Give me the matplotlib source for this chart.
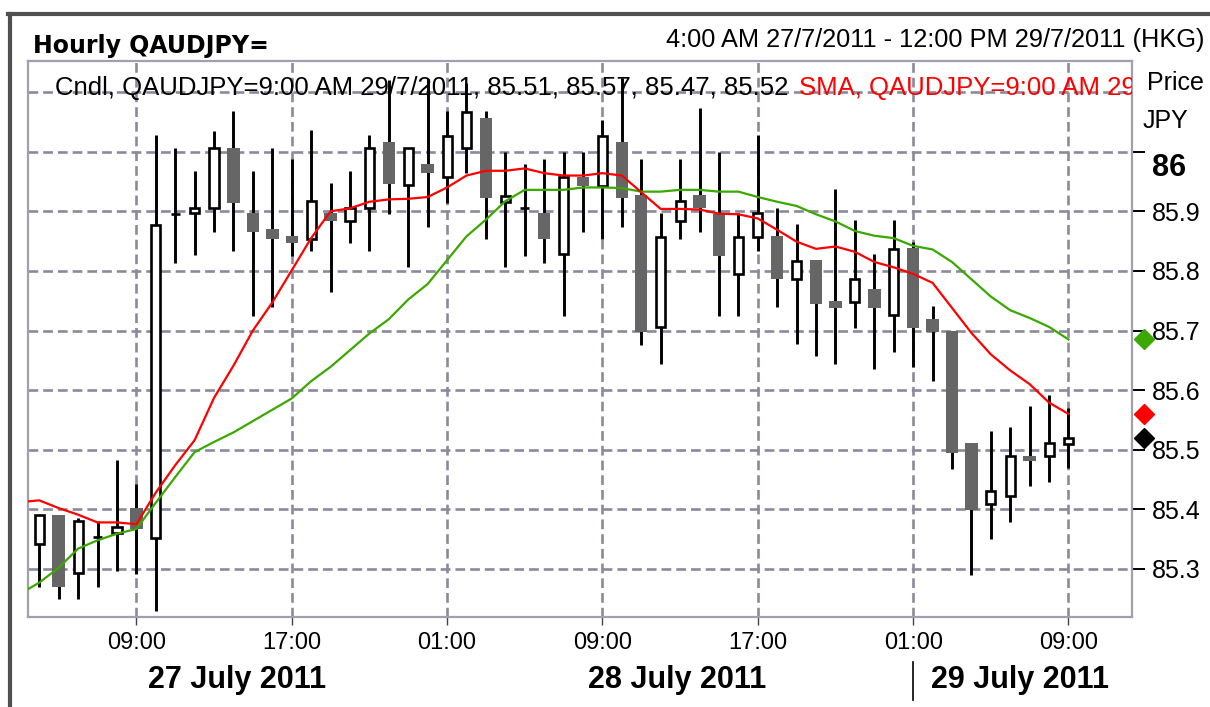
import matplotlib
matplotlib.use("Agg")
import matplotlib.pyplot as plt
import matplotlib.dates as mdates
from matplotlib.lines import Line2D
import numpy as np
import pandas as pd

plt.rcParams["font.family"] = ["Liberation Sans", "DejaVu Sans"]
plt.rcParams["lines.scale_dashes"] = False

W, H = 1210, 707

# hourly candles, 04:00 27/7/2011 .. 09:00 29/7/2011 (HKG)
times = pd.date_range("2011-07-27 04:00", periods=54, freq="h")
opens = [85.341, 85.390, 85.293, 85.353, 85.360, 85.403, 85.352, 85.896, 85.898, 85.905,
         86.007, 85.898, 85.870, 85.858, 85.854, 85.898, 85.884, 85.905, 86.017, 85.944,
         85.979, 85.957, 86.006, 86.056, 85.916, 85.905, 85.898, 85.828, 85.957, 85.943,
         86.016, 85.927, 85.706, 85.884, 85.927, 85.896, 85.795, 85.857, 85.858, 85.787,
         85.818, 85.749, 85.747, 85.769, 85.726, 85.838, 85.720, 85.700, 85.512, 85.409,
         85.422, 85.490, 85.489, 85.510]
highs = [85.390, 85.390, 85.385, 85.381, 85.483, 85.443, 86.028, 86.007, 85.968, 86.034,
         86.068, 85.968, 86.007, 85.988, 86.036, 85.947, 85.968, 86.028, 86.120, 86.007,
         86.122, 86.068, 86.115, 86.068, 86.000, 85.979, 85.988, 86.000, 86.000, 86.054,
         86.124, 85.988, 85.898, 85.988, 86.074, 85.999, 85.898, 86.028, 85.906, 85.878,
         85.818, 85.938, 85.886, 85.829, 85.886, 85.849, 85.741, 85.700, 85.512, 85.531,
         85.538, 85.573, 85.592, 85.570]
lows = [85.269, 85.250, 85.250, 85.269, 85.297, 85.291, 85.230, 85.814, 85.826, 85.866,
        85.834, 85.725, 85.739, 85.825, 85.834, 85.765, 85.846, 85.834, 85.896, 85.806,
        85.874, 85.914, 85.964, 85.854, 85.806, 85.825, 85.814, 85.725, 85.866, 85.854,
        85.874, 85.675, 85.643, 85.854, 85.866, 85.725, 85.725, 85.834, 85.739, 85.678,
        85.657, 85.644, 85.705, 85.636, 85.664, 85.638, 85.615, 85.467, 85.290, 85.351,
        85.378, 85.439, 85.446, 85.470]
closes = [85.390, 85.270, 85.381, 85.353, 85.370, 85.367, 85.877, 85.896, 85.905, 86.006,
          85.914, 85.866, 85.854, 85.846, 85.918, 85.884, 85.906, 86.007, 85.945, 86.007,
          85.964, 86.026, 86.066, 85.923, 85.926, 85.905, 85.854, 85.957, 85.943, 86.026,
          85.923, 85.698, 85.857, 85.918, 85.905, 85.825, 85.857, 85.898, 85.786, 85.816,
          85.745, 85.737, 85.787, 85.737, 85.837, 85.705, 85.697, 85.495, 85.399, 85.430,
          85.489, 85.481, 85.511, 85.520]

# moving averages (one extra point at 03:00, left of the view)
sma_times = pd.date_range("2011-07-27 03:00", periods=55, freq="h")
sma_red = [85.412, 85.415, 85.402, 85.391, 85.378, 85.378, 85.375, 85.428, 85.474, 85.516,
           85.587, 85.641, 85.700, 85.747, 85.801, 85.855, 85.900, 85.905, 85.916, 85.920,
           85.921, 85.924, 85.940, 85.960, 85.968, 85.968, 85.972, 85.964, 85.960, 85.960,
           85.964, 85.960, 85.932, 85.904, 85.904, 85.903, 85.896, 85.895, 85.888, 85.869,
           85.849, 85.837, 85.841, 85.832, 85.815, 85.806, 85.795, 85.780, 85.738, 85.696,
           85.660, 85.633, 85.610, 85.579, 85.560]
sma_green = [85.258, 85.277, 85.302, 85.334, 85.348, 85.359, 85.367, 85.411, 85.454, 85.496,
             85.513, 85.529, 85.548, 85.567, 85.586, 85.615, 85.639, 85.667, 85.695, 85.719,
             85.752, 85.778, 85.818, 85.858, 85.886, 85.917, 85.936, 85.936, 85.936, 85.940,
             85.940, 85.939, 85.933, 85.933, 85.936, 85.936, 85.933, 85.933, 85.924, 85.916,
             85.909, 85.895, 85.883, 85.867, 85.859, 85.855, 85.842, 85.836, 85.815, 85.786,
             85.757, 85.734, 85.721, 85.706, 85.685]

price_ticks = [85.3, 85.4, 85.5, 85.6, 85.7, 85.8, 85.9, 86.0]
price_labels = ["85.3", "85.4", "85.5", "85.6", "85.7", "85.8", "85.9", ""]

RED = "#ff0000"
GREEN = "#3aa800"
GRAY_BODY = "#666666"
GRID = "#8a8a9a"


def px(x, y):
    return x / W, 1 - y / H


fig = plt.figure(figsize=(W / 100, H / 100), dpi=100)
ax = fig.add_axes([28 / W, 1 - 617 / H, 1104 / W, 556 / H])

x = mdates.date2num(times)
xs = mdates.date2num(sma_times)
hour = 1.0 / 24

o = np.array(opens)
c = np.array(closes)
up = c >= o

ax.vlines(x, lows, highs, color="black", linewidth=2.1, zorder=3)
ax.bar(x[up], (c - o)[up], bottom=o[up], width=0.47 * hour, facecolor="white",
       edgecolor="black", linewidth=1.9, zorder=4)
ax.bar(x[~up], (c - o)[~up], bottom=o[~up], width=0.64 * hour, facecolor=GRAY_BODY,
       edgecolor="none", linewidth=0, zorder=4)

ax.plot(xs, sma_green, color=GREEN, linewidth=1.6, zorder=5)
ax.plot(xs, sma_red, color=RED, linewidth=1.6, zorder=5)

# last value markers right of the plot
x_mark = x[0] + 56.9 * hour
ax.plot([x_mark], [sma_green[-1]], marker="D", markersize=10, color=GREEN, clip_on=False, zorder=6)
ax.plot([x_mark], [sma_red[-1]], marker="D", markersize=10, color=RED, clip_on=False, zorder=6)
ax.plot([x_mark], [closes[-1]], marker="D", markersize=10, color="black", clip_on=False, zorder=6)

ax.set_xlim(x[0] - 0.58 * hour, x[0] + 56.27 * hour)
ax.set_ylim(85.2193, 86.1522)

ax.xaxis.set_major_locator(mdates.HourLocator(byhour=[1, 9, 17]))
ax.xaxis.set_major_formatter(mdates.DateFormatter("%H:%M"))
ax.tick_params(axis="x", direction="out", length=6, width=1, color="#444444",
               labelsize=17, pad=5)

ax.yaxis.tick_right()
ax.set_yticks(price_ticks)
ax.set_yticklabels(price_labels)
ax.tick_params(axis="y", direction="out", length=9.4, width=1.4, color="black",
               labelsize=18, pad=5)

dash = (0, (7, 3.6))
ax.grid(True, color=GRID, linestyle=dash, linewidth=1.9, zorder=1)
ax.axhline(86.1, color=GRID, linestyle=dash, linewidth=1.9, zorder=1)
ax.set_axisbelow(True)
for s in ax.spines.values():
    s.set_color("#a0a0b0")
    s.set_linewidth(1.6)

# legend line inside the plot
ax.text((55 - 28) / 1104, (617 - 88) / 556,
        "Cndl, QAUDJPY=9:00 AM 29/7/2011, 85.51, 85.57, 85.47, 85.52",
        transform=ax.transAxes, fontsize=18.5, color="black", va="center", ha="left", zorder=7)
ax.text((799 - 28) / 1104, (617 - 88) / 556,
        "SMA, QAUDJPY=9:00 AM 29/7/2011, 85.56",
        transform=ax.transAxes, fontsize=18.5, color=RED, va="center", ha="left",
        clip_on=True, zorder=7)

# header texts
fig.text(*px(33, 46), "Hourly QAUDJPY=", family="DejaVu Sans", fontweight="bold",
         fontsize=17, va="center", ha="left")
fig.text(*px(1205, 40), "4:00 AM 27/7/2011 - 12:00 PM 29/7/2011 (HKG)", fontsize=18.3,
         va="center", ha="right")
fig.text(*px(1147, 83), "Price", fontsize=18, va="center", ha="left")
fig.text(*px(1143, 121), "JPY", fontsize=18, va="center", ha="left")
fig.text(*px(1152, 168), "86", fontsize=22, fontweight="bold", va="center", ha="left")

# day labels
fig.text(*px(237, 680), "27 July 2011", fontsize=22, fontweight="bold", va="center", ha="center")
fig.text(*px(677, 680), "28 July 2011", fontsize=22, fontweight="bold", va="center", ha="center")
fig.text(*px(1020, 680), "29 July 2011", fontsize=22, fontweight="bold", va="center", ha="center")
fig.add_artist(Line2D([913 / W, 913 / W], [1 - 662 / H, 1 - 700 / H], color="black",
                      linewidth=1.2, transform=fig.transFigure))

# outer frame
fig.add_artist(Line2D([8 / W, 1], [1 - 14 / H, 1 - 14 / H], color="#505050",
                      linewidth=3, transform=fig.transFigure))
fig.add_artist(Line2D([10 / W, 10 / W], [1 - 14 / H, 0], color="#505050",
                      linewidth=3, transform=fig.transFigure))

fig.savefig("out.png", dpi=100)
